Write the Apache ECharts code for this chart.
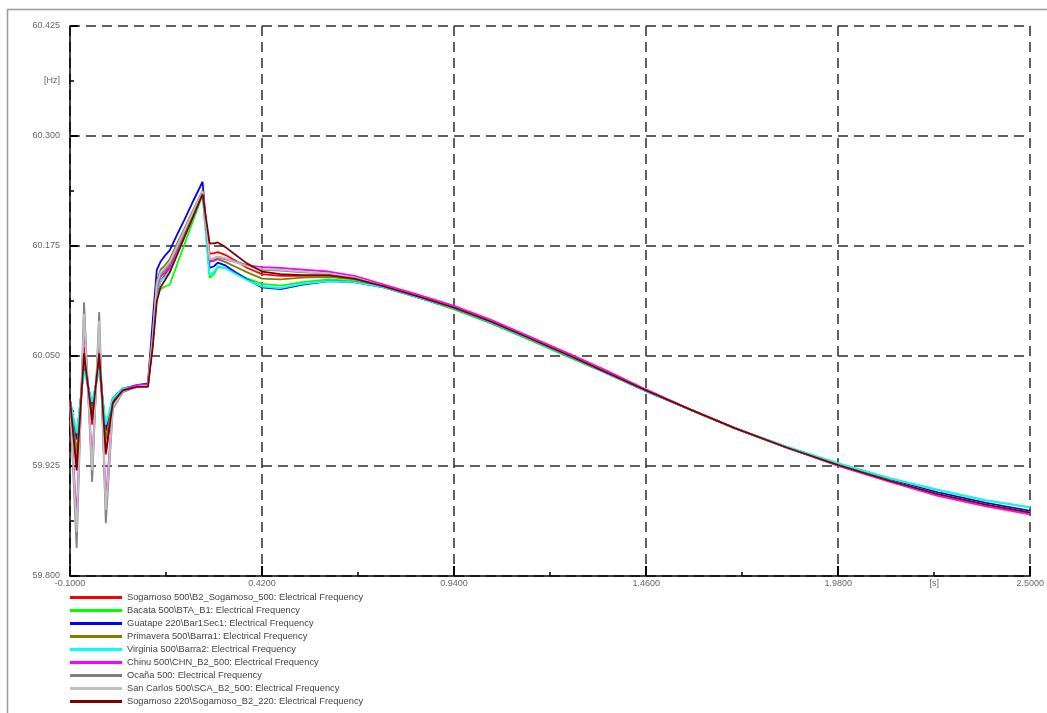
<!DOCTYPE html>
<html>
<head>
<meta charset="utf-8">
<script src="https://cdn.jsdelivr.net/npm/echarts@6/dist/echarts.min.js"></script>
<style>
  html, body { margin: 0; padding: 0; background: #ffffff; }
  #chart { width: 1047px; height: 713px; }
</style>
</head>
<body>
<div id="chart"></div>
<script>
// Simulation time [s]
var timeS = [-0.100, -0.082, -0.062, -0.040, -0.021, -0.003, 0.016, 0.043, 0.081, 0.111,
  0.124, 0.135, 0.145, 0.157, 0.170, 0.190, 0.210, 0.230, 0.259,
  0.278, 0.290, 0.300, 0.320, 0.345, 0.380, 0.420,
  0.470, 0.530, 0.600, 0.670,
  0.750, 0.840, 0.940, 1.040, 1.140, 1.260, 1.360, 1.460, 1.580, 1.700, 1.840, 1.980, 2.120, 2.250, 2.380, 2.500];

// Electrical frequency [Hz] per busbar
var sogamoso500 = [60.000, 59.925, 60.060, 59.972, 60.058, 59.938, 59.998, 60.011, 60.015, 60.016,
  60.065, 60.122, 60.135, 60.142, 60.150, 60.169, 60.189, 60.208, 60.236,
  60.166, 60.167, 60.168, 60.165, 60.159, 60.150, 60.143,
  60.141, 60.141, 60.141, 60.138,
  60.129, 60.118, 60.105, 60.089, 60.071, 60.049, 60.030, 60.011, 59.989, 59.968, 59.946, 59.926, 59.908, 59.893, 59.881, 59.872];
var bacata500 = [60.000, 59.958, 60.036, 59.995, 60.038, 59.968, 60.002, 60.013, 60.016, 60.017,
  60.068, 60.120, 60.126, 60.129, 60.131, 60.154, 60.177, 60.200, 60.233,
  60.139, 60.143, 60.151, 60.150, 60.145, 60.138, 60.132,
  60.130, 60.134, 60.137, 60.135,
  60.128, 60.117, 60.103, 60.087, 60.069, 60.047, 60.029, 60.010, 59.989, 59.968, 59.947, 59.928, 59.911, 59.898, 59.886, 59.878];
var guatape220 = [60.000, 59.955, 60.040, 59.992, 60.040, 59.965, 60.002, 60.013, 60.017, 60.019,
  60.090, 60.148, 60.157, 60.164, 60.170, 60.188, 60.205, 60.223, 60.248,
  60.150, 60.152, 60.156, 60.153, 60.146, 60.137, 60.128,
  60.126, 60.131, 60.135, 60.134,
  60.128, 60.117, 60.104, 60.088, 60.070, 60.048, 60.029, 60.010, 59.989, 59.968, 59.946, 59.927, 59.909, 59.895, 59.883, 59.874];
var primavera500 = [60.000, 59.940, 60.045, 59.985, 60.045, 59.955, 60.000, 60.012, 60.016, 60.017,
  60.075, 60.135, 60.148, 60.153, 60.160, 60.178, 60.195, 60.213, 60.238,
  60.157, 60.158, 60.160, 60.157, 60.152, 60.145, 60.138,
  60.137, 60.139, 60.140, 60.137,
  60.129, 60.118, 60.105, 60.089, 60.071, 60.049, 60.030, 60.011, 59.989, 59.968, 59.946, 59.926, 59.908, 59.893, 59.881, 59.872];
var virginia500 = [60.000, 59.962, 60.033, 59.998, 60.035, 59.972, 60.002, 60.013, 60.016, 60.017,
  60.070, 60.125, 60.135, 60.140, 60.147, 60.166, 60.186, 60.205, 60.233,
  60.142, 60.146, 60.152, 60.150, 60.144, 60.136, 60.129,
  60.127, 60.132, 60.135, 60.134,
  60.128, 60.117, 60.104, 60.088, 60.070, 60.048, 60.029, 60.010, 59.989, 59.968, 59.947, 59.928, 59.911, 59.898, 59.886, 59.878];
var chinu500 = [60.000, 59.864, 60.087, 59.930, 60.080, 59.885, 59.994, 60.011, 60.017, 60.018,
  60.072, 60.128, 60.140, 60.145, 60.152, 60.171, 60.190, 60.209, 60.236,
  60.158, 60.159, 60.162, 60.160, 60.157, 60.153, 60.151,
  60.150, 60.148, 60.146, 60.141,
  60.131, 60.120, 60.107, 60.091, 60.073, 60.051, 60.032, 60.012, 59.989, 59.968, 59.946, 59.925, 59.907, 59.891, 59.879, 59.870];
var ocana500 = [60.000, 59.832, 60.111, 59.907, 60.100, 59.860, 59.990, 60.009, 60.015, 60.016,
  60.070, 60.130, 60.142, 60.148, 60.155, 60.173, 60.191, 60.209, 60.236,
  60.160, 60.161, 60.163, 60.161, 60.158, 60.153, 60.148,
  60.147, 60.145, 60.144, 60.139,
  60.129, 60.118, 60.105, 60.089, 60.071, 60.049, 60.030, 60.011, 59.989, 59.968, 59.946, 59.926, 59.908, 59.893, 59.881, 59.872];
var sanCarlos500 = [60.000, 59.850, 60.098, 59.920, 60.090, 59.875, 59.992, 60.010, 60.015, 60.016,
  60.070, 60.132, 60.145, 60.150, 60.157, 60.175, 60.193, 60.211, 60.237,
  60.160, 60.161, 60.163, 60.161, 60.157, 60.152, 60.149,
  60.148, 60.146, 60.144, 60.139,
  60.129, 60.118, 60.105, 60.089, 60.071, 60.049, 60.030, 60.011, 59.989, 59.968, 59.946, 59.926, 59.908, 59.893, 59.881, 59.872];
var sogamoso220 = [60.000, 59.920, 60.053, 59.977, 60.053, 59.940, 59.997, 60.011, 60.015, 60.015,
  60.060, 60.112, 60.128, 60.136, 60.145, 60.165, 60.185, 60.205, 60.234,
  60.178, 60.178, 60.179, 60.174, 60.166, 60.155, 60.146,
  60.143, 60.142, 60.142, 60.138,
  60.129, 60.118, 60.105, 60.089, 60.071, 60.049, 60.030, 60.011, 59.989, 59.968, 59.946, 59.926, 59.908, 59.893, 59.881, 59.872];

var seriesNames = [
  'Sogamoso 500\\B2_Sogamoso_500: Electrical Frequency',
  'Bacata 500\\BTA_B1: Electrical Frequency',
  'Guatape 220\\Bar1Sec1: Electrical Frequency',
  'Primavera 500\\Barra1: Electrical Frequency',
  'Virginia 500\\Barra2: Electrical Frequency',
  'Chinu 500\\CHN_B2_500: Electrical Frequency',
  'Ocaña 500: Electrical Frequency',
  'San Carlos 500\\SCA_B2_500: Electrical Frequency',
  'Sogamoso 220\\Sogamoso_B2_220: Electrical Frequency'
];
var seriesValues = [sogamoso500, bacata500, guatape220, primavera500, virginia500,
  chinu500, ocana500, sanCarlos500, sogamoso220];
var seriesColors = ['#ff0000', '#00ff00', '#0000ff', '#808000', '#00ffff',
  '#ff00ff', '#808080', '#c0c0c0', '#800000'];

// Axis settings
var xMin = -0.1, xMax = 2.5, xStep = 0.52;
var yMin = 59.8, yMax = 60.425, yStep = 0.125;
var xUnit = '[s]', xUnitAt = 2.24;
var yUnit = '[Hz]', yUnitAt = 60.3625;

var FONT = 'Liberation Sans, Arial, sans-serif';
var FS = 9;
var chart = echarts.init(document.getElementById('chart'), null, { renderer: 'canvas' });

var gridLine = { color: '#2a2a2a', width: 1.5, type: [10, 6] };

var series = seriesNames.map(function (name, k) {
  return {
    name: name,
    type: 'line',
    showSymbol: false,
    symbol: 'none',
    data: timeS.map(function (t, i) { return [t, seriesValues[k][i]]; }),
    lineStyle: { color: seriesColors[k], width: 1.8 },
    itemStyle: { color: seriesColors[k] },
    z: 3 + k
  };
});

chart.setOption({
  animation: false,
  backgroundColor: '#ffffff',
  grid: { left: 70, top: 26, width: 964, height: 550, containLabel: false },
  xAxis: {
    type: 'value', min: xMin, max: xMax, interval: xStep,
    axisLine: { show: true, onZero: false, lineStyle: { color: '#000', width: 1.5 } },
    axisTick: { show: true, inside: true, length: 10, lineStyle: { color: '#000', width: 2 } },
    minorTick: { show: true, splitNumber: 2, length: 4, lineStyle: { color: '#000', width: 1.5 } },
    splitLine: { show: true, lineStyle: gridLine },
    axisLabel: { fontFamily: FONT, fontSize: FS, color: '#666', margin: 3,
      formatter: function (v) { return v.toFixed(4); } }
  },
  yAxis: {
    type: 'value', min: yMin, max: yMax, interval: yStep,
    axisLine: { show: true, onZero: false, lineStyle: { color: '#000', width: 1.5 } },
    axisTick: { show: true, inside: true, length: 8, lineStyle: { color: '#000', width: 2 } },
    minorTick: { show: true, splitNumber: 2, length: 4, lineStyle: { color: '#000', width: 1.5 } },
    splitLine: { show: true, lineStyle: gridLine },
    axisLabel: { fontFamily: FONT, fontSize: FS, color: '#666', margin: 10,
      formatter: function (v) { return v.toFixed(3); } }
  },
  legend: {
    orient: 'vertical', left: 70, top: 591, padding: 0,
    icon: 'rect', itemWidth: 52, itemHeight: 3, itemGap: 0,
    textStyle: { fontFamily: FONT, fontSize: 9.3, color: '#444', lineHeight: 13 },
    data: seriesNames
  },
  series: series
});

// Unit labels placed at the minor-tick positions of each axis, plus the outer frame
var pX = chart.convertToPixel({ xAxisIndex: 0, yAxisIndex: 0 }, [xUnitAt, yMin]);
var pY = chart.convertToPixel({ xAxisIndex: 0, yAxisIndex: 0 }, [xMin, yUnitAt]);
chart.setOption({
  graphic: [
    { type: 'rect', x: 0, y: 0, silent: true, z: -1,
      shape: { x: 7.5, y: 9.5, width: 1100, height: 800 },
      style: { fill: 'none', stroke: '#9a9a9a', lineWidth: 1.5 } },
    { type: 'text', x: pX[0], y: pX[1] + 3, silent: true,
      style: { text: xUnit, fontFamily: FONT, fontSize: FS, fill: '#666', align: 'center', verticalAlign: 'top' } },
    { type: 'text', x: pY[0] - 10, y: pY[1], silent: true,
      style: { text: yUnit, fontFamily: FONT, fontSize: FS, fill: '#666', align: 'right', verticalAlign: 'middle' } }
  ]
});
</script>
</body>
</html>
